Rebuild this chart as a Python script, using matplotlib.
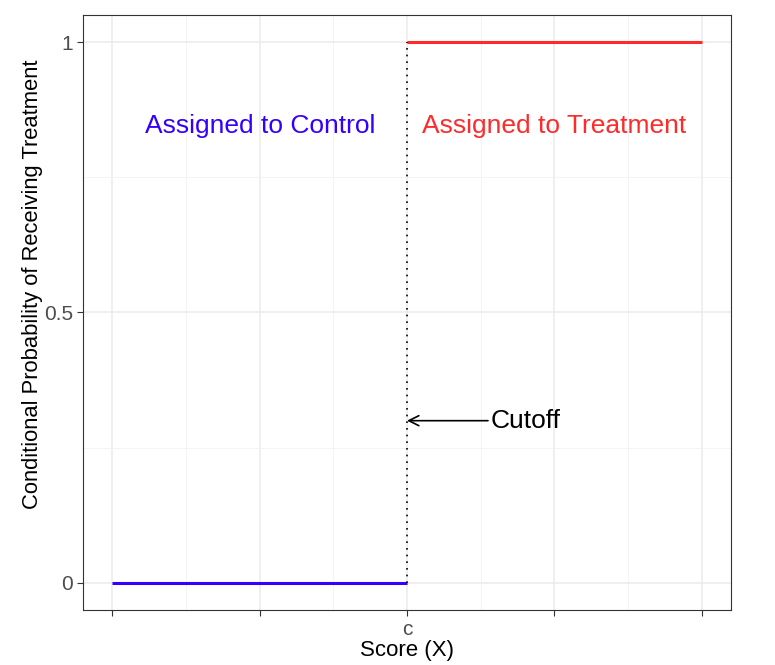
import numpy as np
import matplotlib
matplotlib.use("Agg")
import matplotlib.pyplot as plt

plt.rcParams['font.family'] = ['Liberation Sans', 'DejaVu Sans']

# data
cutoff = 0.0
control_x = [-1.0, 0.0]
control_y = [0.0, 0.0]
treat_x = [0.0, 1.0]
treat_y = [1.0, 1.0]
x_breaks = [-1.0, -0.5, 0.0, 0.5, 1.0]
x_labels = ["", "", "c", "", ""]
y_breaks = [0.0, 0.5, 1.0]
y_labels = ["0", "0.5", "1"]
arrow_y = 0.3
arrow_start = 0.275

fig = plt.figure(figsize=(7.75, 6.65), dpi=100)
ax = fig.add_axes([83/775, 1-610/665, (731-83)/775, (610-15)/665])

ax.set_xlim(-1.1, 1.1)
ax.set_ylim(-0.05, 1.05)

# grid like theme_bw
ax.set_xticks(x_breaks)
ax.set_xticklabels(x_labels)
ax.set_yticks(y_breaks)
ax.set_yticklabels(y_labels)
ax.set_xticks([-0.75, -0.25, 0.25, 0.75], minor=True)
ax.set_yticks([0.25, 0.75], minor=True)
ax.grid(True, which='major', color='#EBEBEB', lw=1.1)
ax.grid(True, which='minor', color='#F2F2F2', lw=0.6)
ax.tick_params(which='minor', length=0)
ax.tick_params(which='major', length=4, width=0.8, color='#333333',
               labelcolor='#4D4D4D', labelsize=15, pad=3)
ax.set_axisbelow(True)
for s in ax.spines.values():
    s.set_color('#333333')
    s.set_linewidth(0.8)

ax.plot(control_x, control_y, color='#3300FF', lw=2.2, solid_capstyle='butt')
ax.plot(treat_x, treat_y, color='#FF2A2A', lw=2.2, solid_capstyle='butt')
ax.plot([cutoff, cutoff], [0, 1], color='black', lw=1.2, ls=(0, (1, 3)))

ax.text(-0.5, 0.845, "Assigned to Control", color='#3300FF', fontsize=19,
        ha='center', va='center')
ax.text(0.5, 0.845, "Assigned to Treatment", color='#FF2A2A', fontsize=19,
        ha='center', va='center')
ax.annotate("", xy=(cutoff, arrow_y), xytext=(arrow_start, arrow_y),
            arrowprops=dict(arrowstyle='->', color='black', lw=1.2,
                            shrinkA=0, shrinkB=0, mutation_scale=18))
ax.text(arrow_start + 0.01, arrow_y, "Cutoff", fontsize=19, ha='left',
        va='center', color='black')

ax.set_xlabel("Score (X)", fontsize=16, color='black', labelpad=1)
ax.set_ylabel("Conditional Probability of Receiving Treatment", fontsize=15.8,
              color='black')
ax.yaxis.set_label_coords(-0.062, 0.548)

fig.savefig("out.png", dpi=100)
